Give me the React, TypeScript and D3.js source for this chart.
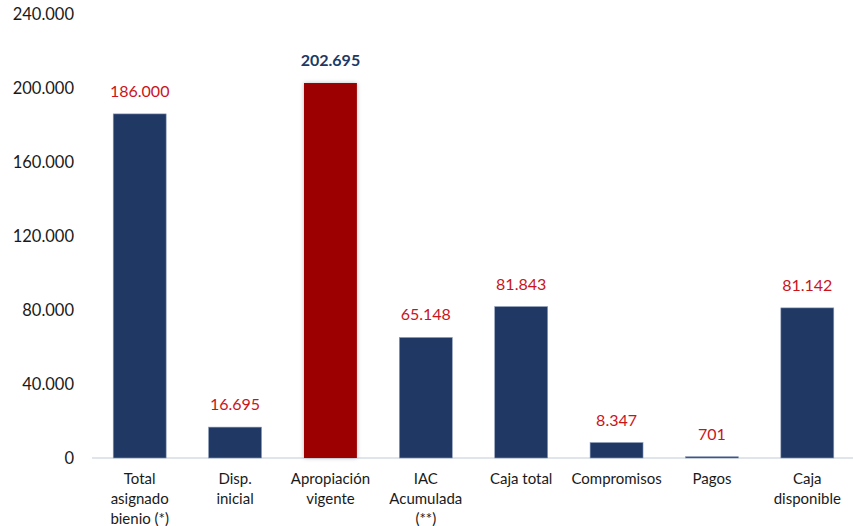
import React from "react";
import * as d3 from "d3";

const categories: string[][] = [
  ["Total", "asignado", "bienio (*)"],
  ["Disp.", "inicial"],
  ["Apropiación", "vigente"],
  ["IAC", "Acumulada", "(**)"],
  ["Caja total"],
  ["Compromisos"],
  ["Pagos"],
  ["Caja", "disponible"],
];
const values: number[] = [186000, 16695, 202695, 65148, 81843, 8347, 701, 81142];
const highlight: boolean[] = [false, false, true, false, false, false, false, false];
const yTicks: number[] = [0, 40000, 80000, 120000, 160000, 200000, 240000];

const W = 853;
const H = 526;
const FONT = "Lato, 'Open Sans', sans-serif";

const fmt = (v: number) => d3.format(",")(v).replace(/,/g, ".");

export default function App() {
  const x = d3
    .scaleBand<number>()
    .domain(values.map((_, i) => i))
    .range([92, 855])
    .paddingInner(0.445)
    .paddingOuter(0.2225);
  const y = d3.scaleLinear().domain([0, 240000]).range([458, 14]);

  return (
    <svg
      width={W}
      height={H}
      style={{ position: "absolute", left: 0, top: 0, background: "#fff" }}
      fontFamily={FONT}
    >
      <defs>
        <filter id="sh" x="-20%" y="-5%" width="140%" height="110%">
          <feDropShadow dx="0" dy="0" stdDeviation="2" floodColor="#000" floodOpacity="0.25" />
        </filter>
      </defs>
      {yTicks.map((t) => (
        <text
          key={t}
          x={74}
          y={y(t)}
          dy="0.36em"
          textAnchor="end"
          fontSize={16.5}
          fill="#1a1a1a"
        >
          {fmt(t)}
        </text>
      ))}
      <line x1={92} x2={853} y1={y(0)} y2={y(0)} stroke="#d6dce6" strokeWidth={1.5} />
      {values.map((v, i) => {
        const bx = x(i)!;
        const bw = x.bandwidth();
        const top = y(v);
        const h = Math.max(y(0) - top, 1);
        return (
          <g key={i}>
            <rect
              x={bx}
              y={h <= 1 ? y(0) - 1.5 : top}
              width={bw}
              height={h <= 1 ? 1.5 : h}
              fill={highlight[i] ? "#9c0000" : h <= 1 ? "#7d8aa3" : "#203864"}
              stroke={highlight[i] ? "none" : "#8a9bb8"}
              strokeWidth={h <= 1 ? 0 : 0.6}
              filter={highlight[i] ? "url(#sh)" : undefined}
            />
            <text
              x={bx + bw / 2}
              y={top - 17}
              textAnchor="middle"
              fontSize={16}
              fontWeight={highlight[i] ? 700 : 400}
              fill={highlight[i] ? "#203864" : "#c9141a"}
            >
              {fmt(v)}
            </text>
            {categories[i].map((line, j) => (
              <text
                key={j}
                x={bx + bw / 2}
                y={479 + j * 20}
                dy="0.36em"
                textAnchor="middle"
                fontSize={15}
                fill="#1a1a1a"
              >
                {line}
              </text>
            ))}
          </g>
        );
      })}
    </svg>
  );
}
